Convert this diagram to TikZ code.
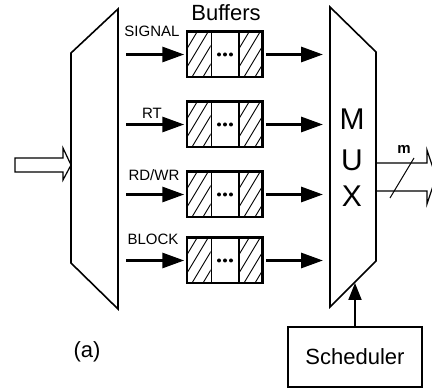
\documentclass[tikz,border=0pt]{standalone}
\usepackage{fontspec}
\setmainfont{Liberation Sans}
\usetikzlibrary{arrows.meta}
\begin{document}
\begin{tikzpicture}[x=1pt,y=-1pt,
  outline/.style={draw=black,line width=1.6pt,line join=miter},
  sigarrow/.style={line width=3pt,-{Triangle[length=22pt,width=15pt]}},
  bufbox/.style={draw,line width=1.5pt,minimum width=75pt,minimum height=45pt,inner sep=0pt,fill=white},
  lbl/.style={font=\fontsize{15}{17}\selectfont,inner sep=0pt},
  bigtxt/.style={font=\fontsize{22}{26}\selectfont,inner sep=0pt},
  muxtxt/.style={font=\fontsize{30}{34}\selectfont,inner sep=0pt},
  hatch/.style={line width=0.9pt},
  wide/.style={draw=black,line width=1.2pt,line join=miter}
]
\useasboundingbox (0,0) rectangle (432,390);
\clip (0,0) rectangle (432,390);
% demux
\draw[outline] (71,53) coordinate (d1) -- (118,9) coordinate (d2) -- (118,309) coordinate (d3) -- (71,263) coordinate (d4) -- cycle;
% input hollow arrow
\draw[wide] (15,158) -- (63,158) -- (63,148) -- (71,165) -- (63,180) -- (63,172) -- (15,172) -- cycle;
% mux
\draw[outline] (330,7) coordinate (m1) -- (376,52) coordinate (m2) -- (376,261) coordinate (m3) -- (330,307) coordinate (m4) -- cycle;
\coordinate (muxL) at (330,0);
\node[muxtxt] (mM) at (352,119) {M};
\node[muxtxt] (mU) at (352,160) {U};
\node[muxtxt] (mX) at (352,196) {X};
% buffers label
\node[bigtxt] (bufl) at (226,13) {Buffers};
% buffers
\foreach \n/\yy in {1/54.5,2/124.5,3/194.5,4/260.5} {
  \node[bufbox] (buf\n) at (224.5,\yy) {};
  \foreach \cx in {187,239} {
    \begin{scope}
      \clip (\cx,\yy-22.5) rectangle (\cx+23.5,\yy+22.5);
      \foreach \k in {-3,...,3} \draw[hatch] (\cx+\k*11-6,\yy+22.5) -- ++(27,-45);
    \end{scope}
  }
  \draw[line width=1.5pt] (211.5,\yy-22.5) -- (211.5,\yy+22.5);
  \draw[line width=1.5pt] (239,\yy-22.5) -- (239,\yy+22.5);
  \draw[line width=1.5pt] (buf\n.north west) rectangle (buf\n.south east);
  \fill (219,\yy) circle (2);
  \fill (225,\yy) circle (2);
  \fill (231,\yy) circle (2);
  \coordinate (in\n) at (126,\yy);
  \draw[sigarrow,shorten >=2pt] (in\n) -- (buf\n.west);
  \draw[sigarrow,shorten <=3pt,shorten >=7pt] (buf\n.east) -- (buf\n.east -| muxL);
}
% labels
\node[lbl] (lsig) at (152,31) {SIGNAL};
\node[lbl] (lrt) at (152,113) {RT};
\node[lbl] (lrw) at (154,175) {RD/WR};
\node[lbl] (lblk) at (153,239) {BLOCK};
% output hollow arrow
\draw[wide] (m3 |- 0,163) -- (427,163) -- (427,150) -- (436,177) -- (427,204) -- (427,191) -- (m3 |- 0,191);
\coordinate (s1) at (390,198);
\coordinate (s2) at (414,158);
\draw[line width=1pt] (s1) -- (s2);
\node[font=\fontsize{15}{17}\selectfont\bfseries,inner sep=0pt] (mlbl) at (404,149) {m};
% scheduler
\node[draw,line width=1.5pt,minimum width=134pt,minimum height=60pt,bigtxt] (sched) at (355,357) {Scheduler};
\coordinate (mtip) at (355,283);
\draw[line width=2pt,-{Triangle[length=17pt,width=13pt]}] (sched) -- (mtip);
% caption
\node[bigtxt] (cap) at (87,352) {(a)};
\end{tikzpicture}
\end{document}
